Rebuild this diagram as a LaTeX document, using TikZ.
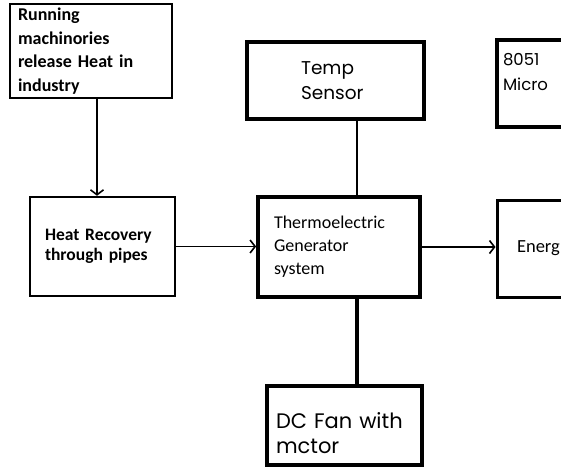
\documentclass[tikz,border=0pt]{standalone}
\usepackage{fontspec}
\setmainfont{Carlito}
\newfontfamily\gothic{Poppins}
\usetikzlibrary{arrows.meta,positioning}

\begin{document}
\begin{tikzpicture}[x=1pt, y=-1pt,
  >={Straight Barb[length=5pt,width=13pt,line width=1.6pt]},
  block/.style={draw, rectangle, inner sep=0pt, align=left},
  conn/.style={line width=1.8pt}]

  \useasboundingbox (0,0) rectangle (561,467);
  \clip (0,0) rectangle (561,467);

  % Define coordinates for nodes
  \node[block, line width=2.2pt, minimum width=162pt, minimum height=94pt, text width=146pt,
        font=\fontsize{18}{23.5}\selectfont\bfseries] (Mach) at (91,51)
        {Running\\machinories\\release Heat in\\industry};
  \node[block, line width=2.4pt, minimum width=145pt, minimum height=99pt, text width=115pt,
        font=\fontsize{17.5}{20}\selectfont\bfseries] (Recov) at (102.5,246.5)
        {Heat Recovery\\through pipes};
  \node[block, line width=3.8pt, minimum width=162pt, minimum height=100pt, text width=130pt,
        font=\fontsize{18}{23}\selectfont] (TEG) at (339,247)
        {Thermoelectric\\Generator\\system};
  \node[block, line width=4.6pt, minimum width=177pt, minimum height=77pt, text width=69pt,
        font=\gothic\fontsize{18.5}{25}\selectfont] (Temp) at (335.5,80.5)
        {Temp\\Sensor};
  \node[block, line width=4.6pt, minimum width=120pt, minimum height=87pt, text width=108pt,
        font=\gothic\fontsize{16.5}{25}\selectfont] (Micro) at (557,83.5)
        {8051\\Micro\\[-2pt]\mbox{}};
  \node[block, line width=3pt, minimum width=120pt, minimum height=97pt, text width=80pt,
        font=\fontsize{18.5}{20}\selectfont] (Energy) at (557,248.5)
        {Energ};
  \node[block, line width=4.6pt, minimum width=155pt, minimum height=79pt, text width=137pt,
        font=\gothic\fontsize{21}{25}\selectfont] (Fan) at (344.5,425.5)
        {\rule{0pt}{31pt}DC Fan with\\mctor};

  % Draw arrows between nodes
  \draw[conn, ->] ([xshift=6pt]Mach.south) -- ([xshift=6pt]Mach.south |- Recov.north);
  \draw[conn, ->] (Recov.east) -- (Recov.east -| TEG.west);
  \draw[conn, ->] (TEG.east) -- (TEG.east -| Energy.west);
  \draw[line width=2.6pt] ([xshift=18pt]TEG.north) -- ([xshift=18pt]TEG.north |- Temp.south);
  \draw[line width=3.6pt] ([xshift=18pt]TEG.south) -- ([xshift=18pt]TEG.south |- Fan.north);
\end{tikzpicture}
\end{document}
